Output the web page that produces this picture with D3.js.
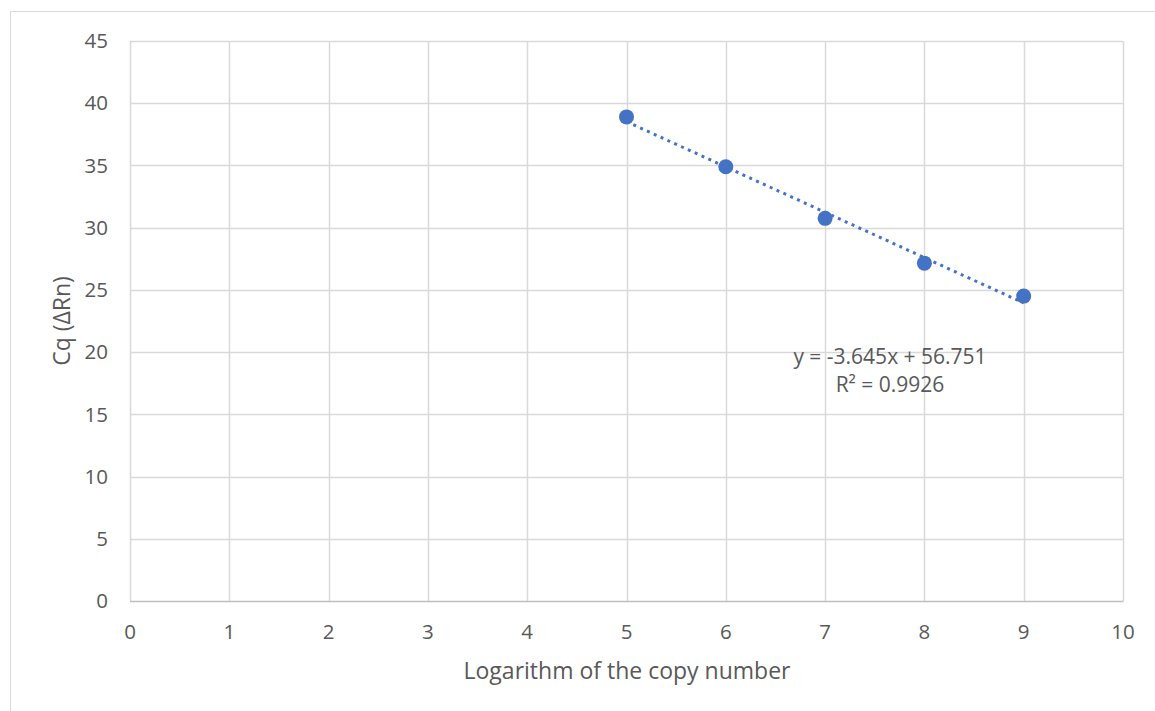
<!DOCTYPE html>
<html><head><meta charset="utf-8">
<script src="https://cdn.jsdelivr.net/npm/d3@7"></script>
<style>
html,body{margin:0;padding:0;background:#fff;}
text{font-family:"Open Sans",sans-serif;fill:#595959;}
</style></head>
<body>
<svg id="c" width="1155" height="711"></svg>
<script>
const xValues = [5, 6, 7, 8, 9];
const cqValues = [38.9, 34.9, 30.75, 27.15, 24.5];
const xTicks = [0,1,2,3,4,5,6,7,8,9,10];
const yTicks = [0,5,10,15,20,25,30,35,40,45];
const slope = -3.645, intercept = 56.751;
const eqLines = ["y = -3.645x + 56.751", "R² = 0.9926"];

const svg = d3.select("#c");
const L = 130, R = 1123, T = 41, B = 601;
const x = d3.scaleLinear().domain([0,10]).range([L,R]);
const y = d3.scaleLinear().domain([0,45]).range([B,T]);

// outer chart border
svg.append("path").attr("d","M10.5,711 V11.5 H1155").attr("fill","none").attr("stroke","#d9d9d9").attr("stroke-width",1);

// gridlines
svg.append("g").selectAll("line").data(yTicks.filter(d=>d>0)).join("line")
  .attr("x1",L).attr("x2",R).attr("y1",d=>Math.round(y(d))+0.5).attr("y2",d=>Math.round(y(d))+0.5)
  .attr("stroke","#d9d9d9").attr("stroke-width",1.5);
svg.append("g").selectAll("line").data(xTicks).join("line")
  .attr("y1",T).attr("y2",B).attr("x1",d=>Math.round(x(d))+0.5).attr("x2",d=>Math.round(x(d))+0.5)
  .attr("stroke","#d9d9d9").attr("stroke-width",1.5);
// x axis line
svg.append("line").attr("x1",L).attr("x2",R+0.5).attr("y1",B+0.5).attr("y2",B+0.5).attr("stroke","#bfbfbf").attr("stroke-width",1.5);

// tick labels
svg.append("g").selectAll("text").data(yTicks).join("text")
  .attr("x",108).attr("y",d=>y(d)).attr("dy","0.35em").attr("text-anchor","end")
  .attr("font-size",20.5).text(d=>d);
svg.append("g").selectAll("text").data(xTicks).join("text")
  .attr("x",d=>x(d)).attr("y",632).attr("dy","0.35em").attr("text-anchor","middle")
  .attr("font-size",20.5).text(d=>d);

// axis titles
svg.append("text").attr("x",627).attr("y",671).attr("dy","0.35em").attr("text-anchor","middle")
  .attr("font-size",23).text("Logarithm of the copy number");
svg.append("text").attr("transform","translate(62,"+((T+B)/2)+") rotate(-90)").attr("dy","0.35em")
  .attr("text-anchor","middle").attr("font-size",23).text("Cq (ΔRn)");

// trendline
const x0 = d3.min(xValues), x1 = d3.max(xValues);
svg.append("line").attr("x1",x(x0)).attr("y1",y(slope*x0+intercept))
  .attr("x2",x(x1)).attr("y2",y(slope*x1+intercept))
  .attr("stroke","#4472c4").attr("stroke-width",3).attr("stroke-dasharray","3 4.5");

// points
svg.append("g").selectAll("circle").data(xValues).join("circle")
  .attr("cx",d=>x(d)).attr("cy",(d,i)=>y(cqValues[i])).attr("r",7.5).attr("fill","#4472c4");

// equation label
svg.append("g").selectAll("text").data(eqLines).join("text")
  .attr("x",890).attr("y",(d,i)=>357+i*28).attr("dy","0.35em").attr("text-anchor","middle")
  .attr("font-size",21).text(d=>d);
</script>
</body></html>
